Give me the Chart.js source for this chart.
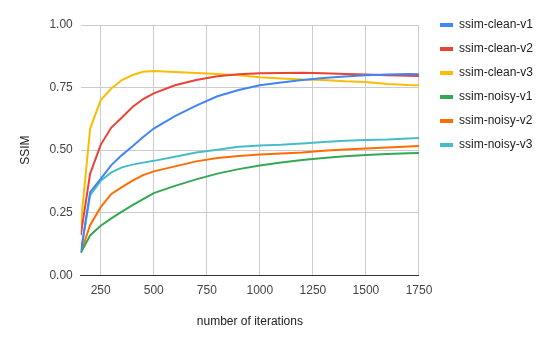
<!DOCTYPE html>
<html>
<head>
<meta charset="utf-8">
<script src="https://cdn.jsdelivr.net/npm/chart.js@4/dist/chart.umd.min.js"></script>
<style>
  html, body { margin: 0; padding: 0; background: #fff; }
  #wrap { width: 552px; height: 345px; position: relative; }
</style>
</head>
<body>
<div id="wrap"><canvas id="chart"></canvas></div>
<script>
// iterations sampled in the run
const iterations = [156, 200, 250, 300, 350, 400, 450, 500, 600, 700, 800, 900, 1000, 1100, 1200, 1300, 1400, 1500, 1600, 1700, 1750];

// SSIM per series
const ssimCleanV1 = [0.09, 0.332, 0.385, 0.44, 0.48, 0.515, 0.552, 0.586, 0.636, 0.678, 0.715, 0.74, 0.759, 0.77, 0.78, 0.788, 0.794, 0.799, 0.802, 0.804, 0.803];
const ssimCleanV2 = [0.16, 0.405, 0.521, 0.59, 0.63, 0.672, 0.704, 0.727, 0.759, 0.78, 0.795, 0.803, 0.807, 0.808, 0.809, 0.807, 0.804, 0.802, 0.799, 0.797, 0.796];
const ssimCleanV3 = [0.2, 0.585, 0.70, 0.746, 0.78, 0.80, 0.813, 0.816, 0.812, 0.808, 0.804, 0.799, 0.791, 0.786, 0.782, 0.78, 0.775, 0.772, 0.764, 0.76, 0.759];
const ssimNoisyV1 = [0.09, 0.159, 0.198, 0.227, 0.254, 0.28, 0.304, 0.328, 0.357, 0.383, 0.406, 0.424, 0.438, 0.45, 0.46, 0.468, 0.475, 0.48, 0.484, 0.487, 0.488];
const ssimNoisyV2 = [0.09, 0.2, 0.272, 0.325, 0.352, 0.378, 0.4, 0.415, 0.435, 0.455, 0.468, 0.476, 0.482, 0.486, 0.49, 0.497, 0.502, 0.506, 0.51, 0.514, 0.516];
const ssimNoisyV3 = [0.09, 0.319, 0.378, 0.411, 0.431, 0.442, 0.45, 0.457, 0.473, 0.49, 0.501, 0.513, 0.518, 0.521, 0.526, 0.532, 0.537, 0.54, 0.542, 0.546, 0.548];

// axis ticks
const xTicks = [250, 500, 750, 1000, 1250, 1500, 1750];
const yTicks = [0, 0.25, 0.5, 0.75, 1];

const series = [
  { label: 'ssim-clean-v1', data: ssimCleanV1, color: '#4285f4' },
  { label: 'ssim-clean-v2', data: ssimCleanV2, color: '#ea4335' },
  { label: 'ssim-clean-v3', data: ssimCleanV3, color: '#fbbc04' },
  { label: 'ssim-noisy-v1', data: ssimNoisyV1, color: '#34a853' },
  { label: 'ssim-noisy-v2', data: ssimNoisyV2, color: '#ff6d01' },
  { label: 'ssim-noisy-v3', data: ssimNoisyV3, color: '#46bdc6' },
];

const font = { family: 'Arial, "Liberation Sans", sans-serif', size: 12 };

// nudge the legend so it sits at the top-right like the original
const legendNudge = {
  id: 'legendNudge',
  afterLayout(chart) {
    const lg = chart.legend;
    lg.top -= 18; lg.bottom -= 18;
    lg.left += 9; lg.right += 9;
  }
};

new Chart(document.getElementById('chart'), {
  type: 'line',
  data: {
    datasets: series.map(s => ({
      label: s.label,
      data: iterations.map((it, i) => ({ x: it, y: s.data[i] })),
      borderColor: s.color,
      backgroundColor: s.color,
      borderWidth: 2,
      pointRadius: 0,
      tension: 0,
    }))
  },
  plugins: [legendNudge],
  options: {
    responsive: true,
    maintainAspectRatio: false,
    animation: false,
    layout: { padding: { top: 25, left: 18, right: 18, bottom: 16 } },
    plugins: {
      legend: {
        position: 'right',
        align: 'start',
        labels: {
          boxWidth: 13, boxHeight: 4, padding: 12, color: '#222', font: font,
          generateLabels: chart => Chart.defaults.plugins.legend.labels.generateLabels(chart)
            .map(l => ({ ...l, lineWidth: 0 }))
        }
      },
      tooltip: { enabled: false },
    },
    scales: {
      x: {
        type: 'linear',
        min: 156,
        max: 1750,
        afterBuildTicks: axis => { axis.ticks = xTicks.map(v => ({ value: v })); },
        ticks: { color: '#444', font: font, padding: 8, maxRotation: 0, callback: v => String(v) },
        grid: { color: '#cccccc', drawTicks: false },
        border: { display: true, color: '#333333', width: 1 },
        title: { display: true, text: 'number of iterations', color: '#222', font: font, padding: { top: 9, bottom: 0 } },
      },
      y: {
        min: 0,
        max: 1,
        afterBuildTicks: axis => { axis.ticks = yTicks.map(v => ({ value: v })); },
        ticks: { color: '#444', font: font, padding: 8, callback: v => v.toFixed(2) },
        grid: { color: '#cccccc', drawTicks: false },
        border: { display: false },
        title: { display: true, text: 'SSIM', color: '#222', font: font, padding: { top: 0, bottom: 9 } },
      }
    }
  }
});
</script>
</body>
</html>
